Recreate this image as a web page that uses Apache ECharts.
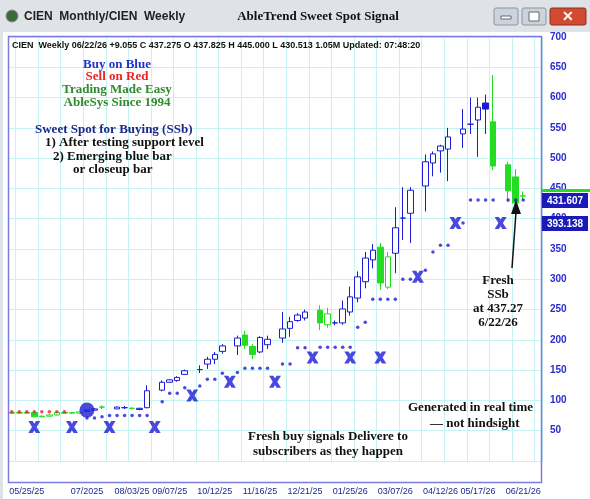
<!DOCTYPE html>
<html><head><meta charset="utf-8">
<script src="https://cdn.jsdelivr.net/npm/echarts@6/dist/echarts.min.js"></script>
<style>html,body{margin:0;padding:0;background:#fff}#c{width:590px;height:500px}</style>
</head><body><div id="c"></div>
<script>
const N = 71;
const tickLabels = {2:'05/25/25',10:'07/2025',16:'08/03/25',21:'09/07/25',27:'10/12/25',33:'11/16/25',39:'12/21/25',45:'01/25/26',51:'03/07/26',57:'04/12/26',62:'05/17/26',68:'06/21/26'};
const opens  = [80,79,80,80,73,74,76,80,79,79,82,84,89,null,86,88,87,85,88,null,117,130,133,143,null,151,160,168,181,null,190,208,189,180,192,null,203,219,232,236,null,249,225,228,228,246,269,296,332,353,287,343,401,409,null,454,492,512,515,null,540,556,563,591,560,null,489,469,437.825];
const closes = [79,80,79,73,74,76,80,79,80,81,84,86,89,null,89,88,87,87,116,null,130,134,138,149,null,151,168,176,190,null,203,191,176,204,201,null,218,230,241,246,null,228,243,228,251,271,304,335,348,294,337,385,401,447,null,494,507,520,535,null,548,556,584,581,487,null,446,426,437.275];
const lows   = [78,78,78,72,72,73,75,78,78,78,81,83,86,null,86,86,85,84,87,null,115,129,131,142,null,145,152,160,177,null,175,185,168,178,185,null,195,205,230,232,null,216,220,224,225,240,262,285,318,283,284,310,365,360,null,412,470,476,462,null,517,540,502,540,480,null,428,424,430.513];
const highs  = [81,81,81,81,75,77,81,81,81,82,85,87,92,null,90,91,89,88,125,null,133,135,140,151,null,158,172,180,193,null,207,215,193,206,207,null,246,238,244,250,null,257,253,232,265,288,313,345,358,360,345,419,452,452,null,506,511,522,550,null,581,600,600,605,637,null,494,482,445];
const barType = ['g','gh','g','g','gh','gh','gh','g','gh','gh','bh','bh','gh','','bh','bf','gh','bh','bh','','bh','bh','bh','bh','','bh','bh','bh','bh','','bh','g','g','bh','bh','','bh','bh','bh','bh','','g','gh','bh','bh','bh','bh','bh','bh','g','gh','bh','bh','bh','','bh','bh','bh','bh','','bh','bh','bh','bf','g','','g','g','gh'];
const supportDots = {10:71,11:71,12:73,13:75,14:75,15:75,16:75,17:75,18:75,20:98,21:112,22:112,23:121,25:124,26:135,27:135,28:145,30:146,31:153,32:153,33:153,34:153,36:160,37:160,38:187,39:187,41:188,42:188,43:188,44:188,45:188,46:221,47:229,48:267,49:267,50:267,51:267,52:300,53:300,55:315,56:345,57:356,58:356,60:393,61:431,62:431,63:431,64:431,66:431,67:431,68:431};
const sellDots = {0:81.5,1:81.5,2:81.5,3:81.5,4:81.5,5:81.5,6:81.5,7:81.5};
const xMarks = {3:56,8:56,13:56,19:56,24:108,29:131,35:131,40:171,45:171,49:171,54:304,59:393,65:393};
const buyCircle = {10:84};
const yTicks = [50,100,150,200,250,300,350,400,450,500,550,600,650,700];

const BLUE='#1c1cd6', GREEN='#22dd22';
const styles = {
  bh:{color:'#fff',color0:'#fff',borderColor:BLUE,borderColor0:BLUE},
  bf:{color:BLUE,color0:BLUE,borderColor:BLUE,borderColor0:BLUE},
  g:{color:GREEN,color0:GREEN,borderColor:GREEN,borderColor0:GREEN},
  gh:{color:'#fff',color0:'#fff',borderColor:GREEN,borderColor0:GREEN}
};
const cats = Array.from({length:N},(_,i)=>String(i));
const candles = cats.map((_,i)=> (i<opens.length && opens[i]!=null)
  ? {value:[opens[i],closes[i],lows[i],highs[i]], itemStyle:styles[barType[i]]} : '-');
const pts = o => Object.keys(o).map(k=>[+k,o[k]]);

const serif = '"Liberation Serif","DejaVu Serif",serif';
const sans = '"Liberation Sans",Arial,sans-serif';
const txt = (x,y,t,fill,size,align,fam)=>({type:'text',x:x,y:y,style:{text:t,fill:fill,font:'bold '+(size||13)+'px '+(fam||serif),textAlign:align||'center',textVerticalAlign:'middle'},z:100});

const chart = echarts.init(document.getElementById('c'));
chart.setOption({
  animation:false,
  backgroundColor:'#fff',
  grid:{left:8,right:48,top:37,bottom:39},
  xAxis:{type:'category',data:cats,boundaryGap:true,
    axisLine:{show:false},axisTick:{show:false},
    axisLabel:{interval:0,margin:26,color:'#1a2a8a',fontSize:9,fontFamily:sans,formatter:(v,i)=>tickLabels[i]||''},
    splitLine:{show:true,interval:(i)=>i%3===1,lineStyle:{color:'#c6f2f2',width:1}}},
  yAxis:{type:'value',position:'right',min:0,max:700,interval:50,
    axisLine:{show:false},axisTick:{show:false},
    axisLabel:{margin:8,color:'#2a2ad0',fontWeight:'bold',fontSize:10,fontFamily:sans,formatter:v=>yTicks.includes(v)?v:''},
    splitLine:{lineStyle:{color:'#c6f2f2',width:1}}},
  graphic:[
    {type:'rect',shape:{x:0,y:0,width:590,height:32},style:{fill:'#dfe3e8'},z:90},
    {type:'rect',shape:{x:0,y:499,width:590,height:1},style:{fill:'#c8ccd0'},z:90},
    {type:'rect',shape:{x:0,y:32,width:3,height:467},style:{fill:'#dfe3e8'},z:90},
    {type:'rect',shape:{x:8.5,y:36.5,width:533,height:446},style:{fill:'none',stroke:'#7b7be0',lineWidth:1.5},z:95},
    {type:'circle',shape:{cx:12,cy:16,r:6},style:{fill:'#3a6a3a',stroke:'#888'},z:100},
    txt(24,17,'CIEN  Monthly/CIEN  Weekly','#222',12,'left',sans),
    {type:'text',x:318,y:17,style:{text:'AbleTrend Sweet Spot Signal',fill:'#111',font:'bold 13px '+serif,textAlign:'center',textVerticalAlign:'middle'},z:100},
    {type:'rect',shape:{x:494,y:8,width:24,height:17,r:2},style:{fill:'#cdd3db',stroke:'#8a94a0'},z:100},
    {type:'rect',shape:{x:522,y:8,width:24,height:17,r:2},style:{fill:'#cdd3db',stroke:'#8a94a0'},z:100},
    {type:'rect',shape:{x:550,y:8,width:36,height:17,r:2},style:{fill:'#d24a30',stroke:'#8a3020'},z:100},
    {type:'rect',shape:{x:501,y:16,width:10,height:3},style:{fill:'#fff',stroke:'#667'},z:101},
    {type:'rect',shape:{x:529,y:12,width:10,height:9},style:{fill:'#fff',stroke:'#667'},z:101},
    txt(568,17,'✕','#fff',14,'center',sans),
    txt(12,46,'CIEN  Weekly 06/22/26 +9.055 C 437.275 O 437.825 H 445.000 L 430.513 1.05M Updated: 07:48:20','#111',9,'left',sans),
    txt(117,65,'Buy on Blue','#2233cc'),
    txt(117,77,'Sell on Red','#ee2222'),
    txt(117,90,'Trading Made Easy','#2e8b2e'),
    txt(117,103,'AbleSys Since 1994','#2e8b2e'),
    txt(35,130,'Sweet Spot for Buying (SSb)','#222288',13,'left'),
    txt(45,143,'1) After testing support level','#111',13,'left'),
    txt(53,157,'2) Emerging blue bar','#111',13,'left'),
    txt(73,170,'or closeup bar','#111',13,'left'),
    txt(498,281,'Fresh','#111'),
    txt(498,295,'SSb','#111'),
    txt(498,309,'at 437.27','#111'),
    txt(498,323,'6/22/26','#111'),
    {type:'line',shape:{x1:512,y1:268,x2:516,y2:212},style:{stroke:'#111',lineWidth:1.5},z:100},
    {type:'polygon',shape:{points:[[516,200],[511,214],[521,214]]},style:{fill:'#111'},z:100},
    txt(408,408,'Generated in real time','#111',13,'left'),
    txt(430,424,'— not hindsight','#111',13,'left'),
    txt(328,437,'Fresh buy signals Delivere to','#111'),
    txt(328,452,'subscribers as they happen','#111'),
    {type:'rect',shape:{x:542,y:189,width:48,height:3},style:{fill:GREEN},z:100},
    {type:'rect',shape:{x:542,y:193,width:46,height:15},style:{fill:'#1a1ab8'},z:100},
    txt(565,201,'431.607','#fff',10,'center',sans),
    {type:'rect',shape:{x:542,y:216,width:46,height:15},style:{fill:'#1a1ab8'},z:100},
    txt(565,224,'393.138','#fff',10,'center',sans)
  ],
  series:[
    {type:'candlestick',data:candles,barWidth:6,z:5},
    {type:'scatter',data:pts(supportDots),symbolSize:3.5,itemStyle:{color:BLUE},z:6},
    {type:'scatter',data:pts(sellDots),symbolSize:3.5,itemStyle:{color:'#ee2222'},z:6},
    {type:'scatter',data:pts(xMarks),symbol:'path://M0 0L3.6 0L5 2.2L6.4 0L10 0L6.9 5L10 10L6.4 10L5 7.8L3.6 10L0 10L3.1 5Z',symbolSize:12,itemStyle:{color:BLUE},z:6},
    {type:'scatter',data:pts(buyCircle),symbolSize:15,itemStyle:{color:BLUE},z:7}
  ]
});
</script></body></html>
